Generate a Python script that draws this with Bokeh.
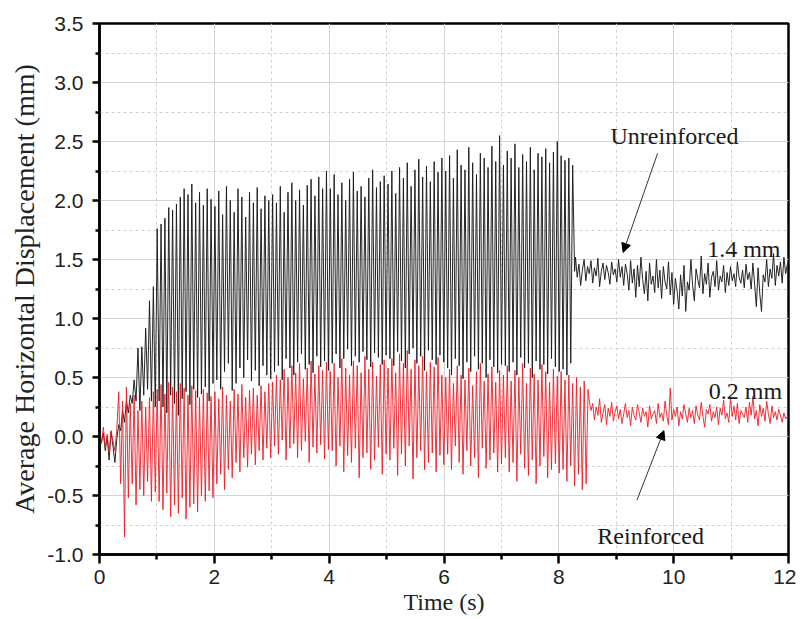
import numpy as np
from bokeh.plotting import figure
from bokeh.models import FixedTicker, Arrow, NormalHead, Label, CustomJSTickFormatter
from bokeh.embed import file_html
from bokeh.resources import INLINE

# ---------------- data (displacements in 0.01 mm) ----------------
DT = 0.0335          # half-period sampling of the oscillation (s)
DTN = 0.03           # sampling of the residual noise (s)

# Unreinforced: start-up (0 - 1 s)
U_START = [2, -5, 3, -12, 0, -20, 4, -8, -22, -2,
           10, 5, 22, 12, 30, 20, 35, 28, 48, 30,
           75, 22, 76, 35, 92, 40, 115, 30, 127, 25]
# Unreinforced: peaks / troughs of the shaking phase (1 - 8.27 s)
U_PEAKS = [176, 180, 185, 194, 192, 197, 203, 210, 205, 214, 198, 207, 196, 210, 201,
           195, 208, 188, 212, 200, 190, 210, 203, 186, 207, 198, 211, 193, 204, 200,
           205, 198, 212, 190, 207, 215, 200, 209, 196, 213, 218, 204, 220, 210, 225,
           210, 222, 205, 215, 200, 218, 224, 208, 212, 203, 219, 226, 211, 216, 221,
           214, 225, 206, 228, 219, 232, 212, 226, 235, 220, 229, 216, 233, 224, 236,
           225, 238, 219, 243, 230, 226, 245, 232, 222, 240, 236, 228, 246, 233, 255,
           230, 242, 236, 248, 228, 239, 233, 245, 226, 240, 237, 244, 232, 241, 250,
           238, 234, 236, 230]
U_TROUGHS = [30, 25, 20, 35, 28, 18, 32, 38, 27, 40, 33, 36, 42, 30, 45,
             48, 40, 55, 62, 39, 45, 58, 50, 65, 47, 56, 43, 60, 52, 49,
             55, 60, 48, 66, 58, 52, 63, 70, 57, 61, 54, 68, 59, 64, 56,
             62, 70, 58, 66, 74, 60, 68, 63, 72, 65, 59, 71, 67, 61, 69,
             66, 60, 72, 64, 58, 70, 75, 62, 68, 56, 73, 65, 61, 69, 63,
             58, 52, 66, 60, 49, 63, 55, 68, 57, 62, 50, 65, 59, 54, 61,
             60, 55, 63, 52, 67, 58, 62, 50, 64, 57, 61, 53, 66, 59, 55,
             57, 52, 62, 140]
# Unreinforced: residual (8.29 - 12 s)
U_NOISE_T0 = 8.29
U_NOISE = [152, 135, 146, 128, 141, 150, 132, 144, 138, 149, 130, 143, 136, 151, 127,
           140, 147, 133, 145, 139, 129, 148, 137, 142, 131, 150, 135, 144, 128, 146,
           138, 124, 149, 130, 142, 118, 145, 127, 152, 133, 121, 140, 115, 147, 129,
           136, 122, 150, 126, 141, 117, 144, 131, 125, 148, 120, 139, 112, 134, 123,
           108, 137, 119, 145, 106, 131, 124, 150, 128, 115, 142, 133, 126, 153, 121,
           138, 129, 147, 118, 135, 140, 127, 149, 124, 136, 131, 145, 122, 139, 128,
           144, 132, 138, 127, 148, 135, 130, 141, 126, 146, 133, 139, 125, 147, 129,
           110, 143, 121, 106, 137, 131, 150, 127, 142, 134, 155, 128, 145, 136, 148,
           130, 152, 138, 146]

# Reinforced: start-up (0 - 0.44 s)
R_START = [3, -6, 8, -10, 2, -14, 5, -4, -12, 6, 38, -40, 30, -85]
# Reinforced: peaks / troughs of the shaking phase (0.47 - 8.5 s)
R_PEAKS = [42, 28, 35, 22, 30, 25, 33, 38,
           40, 44, 36, 46, 42, 38, 45, 41, 35, 43, 39, 33, 40, 37, 34,
           38, 32, 42, 35, 30, 40, 36, 44, 33, 39, 41, 35, 43, 38, 45,
           46, 52, 48, 57, 50, 60, 54, 62, 49, 58, 64, 53, 60, 56, 63,
           55, 62, 50, 66, 58, 52, 64, 60, 54, 68, 57, 63, 51, 61, 65,
           58, 66, 54, 70, 62, 73, 57, 65, 60, 68, 55, 63, 59, 67, 52,
           50, 57, 45, 60, 52, 48, 58, 43, 55, 62, 47, 53, 59, 46, 56,
           52, 60, 47, 56, 50, 62, 45, 58, 53, 48, 61, 55, 46, 57, 51,
           55, 48, 52, 45, 50, 42, 47, 40]
R_TROUGHS = [-52, -40, -58, -45, -50, -38, -55, -47,
             -55, -62, -48, -68, -58, -65, -52, -70, -60, -57, -64, -50, -55, -46, -52,
             -40, -32, -45, -28, -35, -22, -30, -18, -26, -15, -24, -12, -20, -10, -18,
             -8, -15, -3, -20, -10, -6, -18, -12, -4, -22, -9, -14, -7, -19, -11,
             -12, -25, -8, -30, -16, -22, -10, -35, -18, -14, -28, -20, -9, -32, -15,
             -20, -10, -33, -15, -25, -8, -36, -18, -12, -28, -22, -14, -30, -16, -24,
             -15, -28, -8, -22, -32, -12, -25, -18, -35, -10, -27, -20, -14, -30, -23,
             -18, -30, -22, -38, -15, -27, -33, -20, -40, -25, -17, -35, -28, -23, -31,
             -28, -38, -25, -42, -32, -45, -40]
# Reinforced: residual (8.53 - 12 s)
R_NOISE_T0 = 8.53
R_NOISE = [30, 22, 28, 14, 25, 18, 32, 12, 20, 27, 10, 24, 17, 29, 13,
           21, 26, 15, 23, 11, 19, 28, 16, 22, 9, 25, 18, 14, 27, 20,
           12, 24, 17, 21, 8, 26, 15, 19, 22, 11, 28, 16, 20, 13, 30,
           18, 10, 41, 14, 23, 17, 25, 9, 21, 15, 27, 19, 12, 24, 16,
           22, 11, 26, 18, 14, 29, 17, 8, 23, 19, 27, 13, 21, 16, 25,
           10, 24, 18, 31, 15, 20, 12, 33, 17, 26, 14, 28, 11, 22, 19,
           16, 25, 12, 29, 18, 34, 15, 22, 9, 27, 17, 24, 13, 30, 19,
           11, 26, 16, 21, 14, 23, 18, 12, 20, 15, 17]

X_MAJOR = [0, 2, 4, 6, 8, 10, 12]
X_MINOR = [1, 3, 5, 7, 9, 11]
Y_MAJOR = [-1.0, -0.5, 0.0, 0.5, 1.0, 1.5, 2.0, 2.5, 3.0, 3.5]
Y_MINOR = [-0.75, -0.25, 0.25, 0.75, 1.25, 1.75, 2.25, 2.75, 3.25]


def zigzag(peaks, troughs):
    out = []
    for i, pk in enumerate(peaks):
        out.append(pk)
        if i < len(troughs):
            out.append(troughs[i])
    return out


def series(start, peaks, troughs, noise_t0, noise):
    y1 = np.array(start + zigzag(peaks, troughs), dtype=float) / 100.0
    t1 = np.arange(len(y1)) * DT
    y2 = np.array(noise, dtype=float) / 100.0
    t2 = noise_t0 + np.arange(len(y2)) * DTN
    return np.concatenate([t1, t2]), np.concatenate([y1, y2])


ut, uy = series(U_START, U_PEAKS, U_TROUGHS, U_NOISE_T0, U_NOISE)
rt, ry = series(R_START, R_PEAKS, R_TROUGHS, R_NOISE_T0, R_NOISE)

# ---------------- figure ----------------
p = figure(frame_width=689, frame_height=531, x_range=(0, 12), y_range=(-1.0, 3.5),
           output_backend="svg", toolbar_location=None,
           min_border_left=99, min_border_right=8, min_border_top=23, min_border_bottom=57)
p.background_fill_color = "white"
p.border_fill_color = "white"
p.outline_line_color = "black"
p.outline_line_width = 2.5

p.line(ut, uy, line_color="#1a1a1a", line_width=0.95)
p.line(rt, ry, line_color="#ee1c25", line_width=0.9)

for ax, maj, mnr in ((p.xaxis[0], X_MAJOR, X_MINOR), (p.yaxis[0], Y_MAJOR, Y_MINOR)):
    ax.ticker = FixedTicker(ticks=maj, minor_ticks=mnr)
    ax.axis_line_width = 2.5
    ax.axis_line_color = "black"
    ax.major_tick_line_width = 2.5
    ax.minor_tick_line_width = 2.5
    ax.major_tick_in = 0
    ax.minor_tick_in = 0
    ax.major_label_text_font = "Liberation Sans"
    ax.major_label_text_font_size = "21px"
    ax.major_label_text_color = "#222222"
    ax.axis_label_text_font = "Liberation Serif"
    ax.axis_label_text_font_style = "normal"
    ax.axis_label_text_color = "#222222"

p.xaxis.axis_label_text_font_size = "24px"
p.yaxis.axis_label_text_font_size = "28px"
p.xaxis.major_tick_out = 9
p.xaxis.minor_tick_out = 5
p.yaxis.major_tick_out = 7
p.yaxis.minor_tick_out = 4
p.xaxis.major_label_standoff = 6
p.yaxis.major_label_standoff = 9
p.yaxis.formatter = CustomJSTickFormatter(code="return tick.toFixed(1);")
p.xaxis.axis_label = "Time (s)"
p.yaxis.axis_label = "Average Horizontal Displacement (mm)"
p.xaxis.axis_label_standoff = 2
p.yaxis.axis_label_standoff = 4

for g, maj, mnr in ((p.xgrid[0], X_MAJOR, X_MINOR), (p.ygrid[0], Y_MAJOR, Y_MINOR)):
    g.ticker = FixedTicker(ticks=maj, minor_ticks=mnr)
    g.grid_line_color = "#d4d4d4"
    g.grid_line_width = 1
    g.minor_grid_line_color = "#d0d0d0"
    g.minor_grid_line_dash = "3 3"
    g.minor_grid_line_width = 1

# ---------------- annotations ----------------
p.add_layout(Arrow(end=NormalHead(size=9, fill_color="black", line_color="black", line_width=1),
                   x_start=9.72, y_start=2.40, x_end=9.12, y_end=1.56,
                   line_color="#333333", line_width=1))
p.add_layout(Arrow(end=NormalHead(size=9, fill_color="black", line_color="black", line_width=1),
                   x_start=9.36, y_start=-0.54, x_end=9.83, y_end=0.05,
                   line_color="#333333", line_width=1))

lab = dict(text_font="Liberation Serif", text_font_size="24px", text_color="#1a1a1a",
           text_baseline="alphabetic")
p.add_layout(Label(x=8.90, y=2.545, text="Unreinforced", text_align="left", **lab))
p.add_layout(Label(x=11.86, y=1.585, text="1.4 mm", text_align="right", **lab))
p.add_layout(Label(x=11.89, y=0.384, text="0.2 mm", text_align="right", **lab))
p.add_layout(Label(x=8.67, y=-0.845, text="Reinforced", text_align="left", **lab))

open("out.html", "w").write(file_html(p, INLINE))
